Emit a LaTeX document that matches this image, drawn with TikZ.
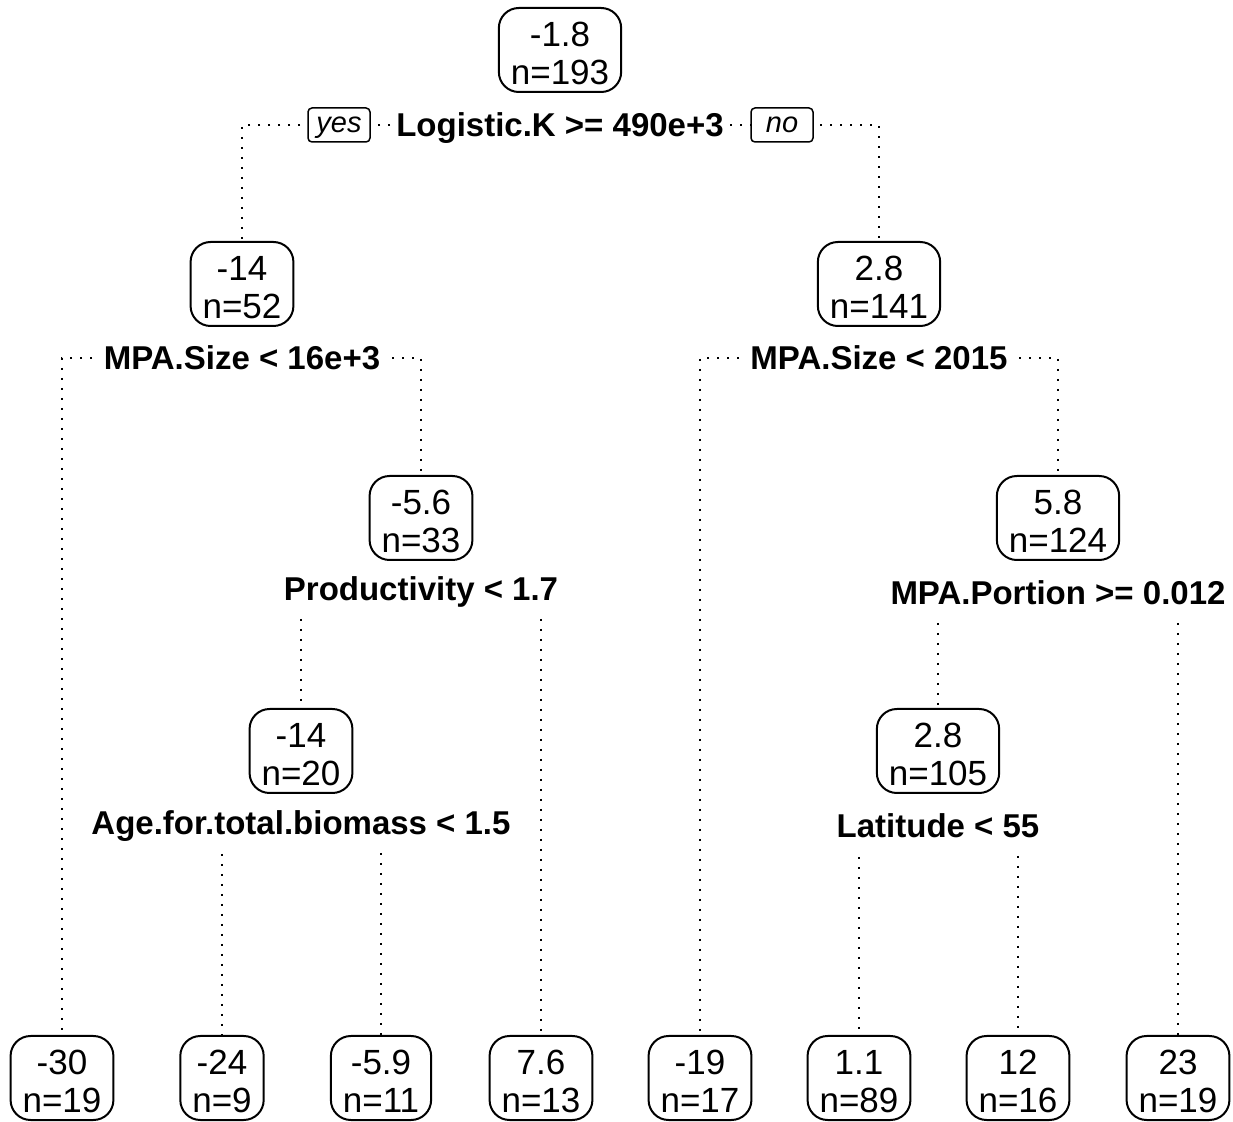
\documentclass[tikz,border=0pt]{standalone}
\usepackage{fontspec}
\setmainfont{Liberation Sans}
\usetikzlibrary{backgrounds}
\newcommand\fitval[2]{\rule{0pt}{15.5pt}#1\\n=#2}
\tikzset{
  treenode/.style={draw, line width=1pt, rounded corners=10pt, minimum height=42pt,
    inner xsep=6pt, inner ysep=2pt, align=center, fill=white,
    font=\fontsize{17.5}{19}\selectfont},
  splitlabel/.style={fill=white, inner xsep=2pt, inner ysep=2.5pt, text height=15pt,
    text depth=3.5pt, font=\bfseries\fontsize{16.5}{18}\selectfont},
  yesno/.style={draw, fill=white, line width=0.75pt, rounded corners=2pt,
    minimum width=31pt, minimum height=17pt, inner xsep=1pt, inner ysep=0.5pt,
    text height=11pt, text depth=3pt,
    font=\itshape\fontsize{14.5}{16}\selectfont},
  dotline/.style={line width=1pt, dash pattern=on 1pt off 4pt},
}
\begin{document}
\begin{tikzpicture}[x=0.5pt, y=-0.5pt]
\useasboundingbox (0,0) rectangle (1233,1122);
% inner nodes
\node[treenode] (n1) at (560,50) {\fitval{-1.8}{193}};
\node[splitlabel] (s1) at (560,125) {Logistic.K >= 490e+3};
\node[yesno] (yes) at (339,125) {yes};
\node[yesno] (no) at (782,125) {no};
\node[treenode] (n2) at (242,284) {\fitval{-14}{52}};
\node[splitlabel] (s2) at (242,358) {MPA.Size < 16e+3};
\node[treenode] (n3) at (879,284) {\fitval{2.8}{141}};
\node[splitlabel] (s3) at (879,358) {MPA.Size < 2015};
\node[treenode] (n4) at (421,518) {\fitval{-5.6}{33}};
\node[splitlabel] (s4) at (421,589) {Productivity < 1.7};
\node[treenode] (n5) at (1058,518) {\fitval{5.8}{124}};
\node[splitlabel] (s5) at (1058,593) {MPA.Portion >= 0.012};
\node[treenode] (n6) at (301,751) {\fitval{-14}{20}};
\node[splitlabel] (s6) at (301,823) {Age.for.total.biomass < 1.5};
\node[treenode] (n7) at (938,751) {\fitval{2.8}{105}};
\node[splitlabel] (s7) at (938,826) {Latitude < 55};
% leaves
\node[treenode] (l1) at (62,1078) {\fitval{-30}{19}};
\node[treenode] (l2) at (222,1078) {\fitval{-24}{9}};
\node[treenode] (l3) at (381,1078) {\fitval{-5.9}{11}};
\node[treenode] (l4) at (541,1078) {\fitval{7.6}{13}};
\node[treenode] (l5) at (700,1078) {\fitval{-19}{17}};
\node[treenode] (l6) at (859,1078) {\fitval{1.1}{89}};
\node[treenode] (l7) at (1018,1078) {\fitval{12}{16}};
\node[treenode] (l8) at (1178,1078) {\fitval{23}{19}};
% connectors
\begin{scope}[on background layer]
\draw[dotline] (s1.center) -| (n2.north);
\draw[dotline] (s1.center) -| (n3.north);
\draw[dotline] (s2.center) -| (l1.north);
\draw[dotline] (s2.center) -| (n4.north);
\draw[dotline] (s3.center) -| (l5.north);
\draw[dotline] (s3.center) -| (n5.north);
\draw[dotline] (s4.center) -| (n6.north);
\draw[dotline] (s4.center) -| (l4.north);
\draw[dotline] (s5.center) -| (n7.north);
\draw[dotline] (s5.center) -| (l8.north);
\draw[dotline] (s6.center) -| (l2.north);
\draw[dotline] (s6.center) -| (l3.north);
\draw[dotline] (s7.center) -| (l6.north);
\draw[dotline] (s7.center) -| (l7.north);
\end{scope}
\end{tikzpicture}
\end{document}
